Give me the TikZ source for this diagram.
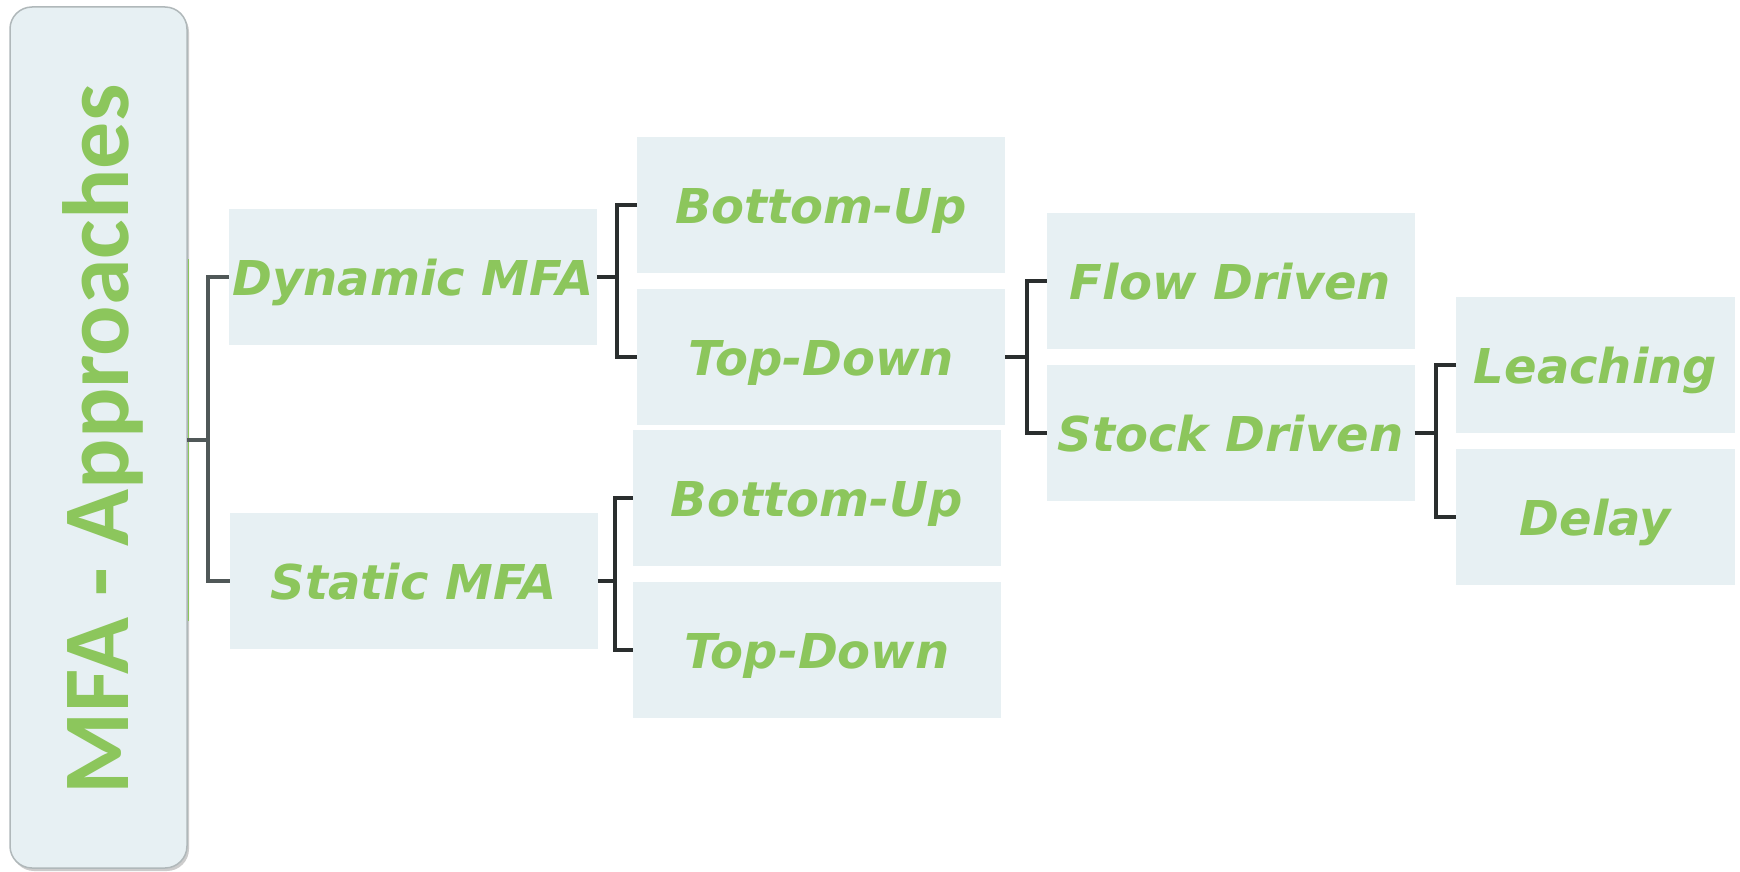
\documentclass[tikz,border=0pt]{standalone}
\usepackage{fontspec}
\setmainfont{DejaVu Sans}
\newfontfamily\titlefont{Carlito}[BoldFont={Carlito Bold}]
\newfontfamily\boxfont{DejaVu Sans}
\usetikzlibrary{shadows}
\definecolor{boxfill}{RGB}{231,240,243}
\definecolor{txtgreen}{RGB}{140,198,92}
\definecolor{connA}{RGB}{80,88,88}
\definecolor{connB}{RGB}{42,46,46}
\definecolor{rootborder}{RGB}{176,184,186}
\tikzset{
  leaf/.style={fill=boxfill, draw=none, inner sep=0pt, outer sep=0pt,
    minimum width=368pt, minimum height=136pt, text=txtgreen,
    text height=37pt, text depth=0pt,
    font=\boxfont\bfseries\itshape\fontsize{48}{56}\selectfont},
  smallleaf/.style={leaf, minimum width=279pt},
  lconn/.style={draw=connA, line width=4pt},
  rconn/.style={draw=connB, line width=4pt},
}
\begin{document}
\begin{tikzpicture}[x=1pt,y=-1pt]
\useasboundingbox (0,0) rectangle (1740,872);
\fill[white] (0,0) rectangle (1740,872);
% root box
\node[draw=rootborder, line width=1.5pt, fill=boxfill, rounded corners=22pt,
  minimum width=177pt, minimum height=861pt, inner sep=0pt, outer sep=0pt,
  drop shadow={shadow xshift=2pt, shadow yshift=-3pt, opacity=0.4}]
  (root) at (98.5,437.5) {};
\node[rotate=90, anchor=base, text=txtgreen, inner sep=0pt,
  font=\titlefont\bfseries\fontsize{94}{100}\selectfont]
  (title) at (128,439.5) {MFA - Approaches};
\draw[txtgreen, line width=1.6pt] (188.5,259) -- (188.5,621);
% level 1
\node[leaf] (dyn) at (412.8,276.8) {Dynamic MFA};
\node[leaf] (sta) at (413.9,580.9) {Static MFA};
% level 2
\node[leaf] (bu1) at (821,205.3) {Bottom-Up};
\node[leaf] (td1) at (821,357.3) {Top-Down};
\node[leaf] (bu2) at (816.8,498.3) {Bottom-Up};
\node[leaf] (td2) at (816.8,650.3) {Top-Down};
% level 3
\node[leaf] (flow) at (1230.5,281.3) {Flow Driven};
\node[leaf] (stock) at (1230.5,433.3) {Stock Driven};
% level 4
\node[smallleaf] (leach) at (1595.5,364.5) {Leaching};
\node[smallleaf] (delay) at (1595.5,516.5) {Delay};
% junctions
\coordinate (j0) at (208,439.5);
\coordinate (j1) at (617,276.8);
\coordinate (j2) at (615,580.9);
\coordinate (j3) at (1026.5,357.3);
\coordinate (j4) at (1436,433.3);
% connectors
\draw[lconn] (root.east |- j0) -- (j0);
\draw[lconn] (dyn.west) -| (j0) |- (sta.west);
\draw[rconn] (dyn.east) -- (j1);
\draw[rconn] (bu1.west) -| (j1) |- (td1.west);
\draw[rconn] (sta.east) -- (j2);
\draw[rconn] (bu2.west) -| (j2) |- (td2.west);
\draw[rconn] (td1.east) -- (j3);
\draw[rconn] (flow.west) -| (j3) |- (stock.west);
\draw[rconn] (stock.east) -- (j4);
\draw[rconn] (leach.west) -| (j4) |- (delay.west);
\end{tikzpicture}
\end{document}
